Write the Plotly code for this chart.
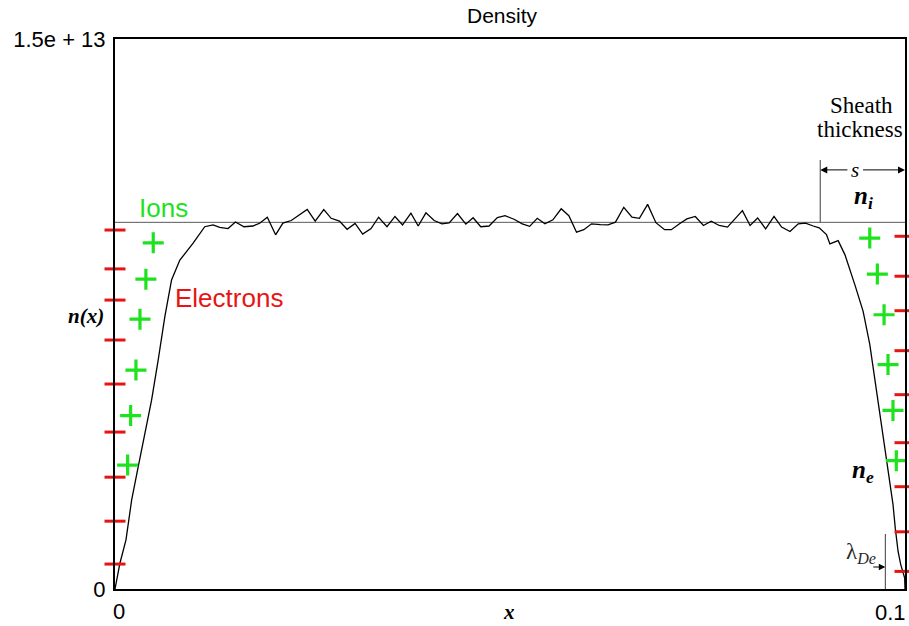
import plotly.graph_objects as go

# ---------------- data ----------------
E12 = 1e12
# electron density n_e(x): x in m, density in units of 1e12
ne_x = [0.0, 0.00063, 0.00139, 0.00211, 0.00294, 0.00379, 0.00463, 0.00547, 0.00631, 0.00716,
        0.00821, 0.00989, 0.01136, 0.01241, 0.01326, 0.01431, 0.01524, 0.01633, 0.01746, 0.01831,
        0.01928, 0.02033, 0.02125, 0.02231, 0.02332, 0.02433, 0.02534, 0.02643, 0.02736, 0.02841,
        0.02938, 0.03039, 0.03135, 0.03241, 0.03337, 0.03443, 0.03544, 0.03640, 0.03746, 0.03838,
        0.03936, 0.04040, 0.04138, 0.04230, 0.04335, 0.04441, 0.04533, 0.04630, 0.04735, 0.04840,
        0.04937, 0.05051, 0.05155, 0.05249, 0.05345, 0.05442, 0.05543, 0.05648, 0.05745, 0.05842,
        0.05934, 0.06032, 0.06145, 0.06241, 0.06335, 0.06440, 0.06544, 0.06638, 0.06742, 0.06847,
        0.06957, 0.07042, 0.07146, 0.07239, 0.07345, 0.07449, 0.07547, 0.07648, 0.07753, 0.07850,
        0.07942, 0.08039, 0.08135, 0.08236, 0.08342, 0.08438, 0.08544, 0.08649, 0.08741, 0.08838,
        0.08914, 0.09006, 0.09049, 0.09154, 0.09239, 0.09365, 0.09470, 0.09554, 0.09617, 0.09681,
        0.09744, 0.09807, 0.09848, 0.09877, 0.09912, 0.09946, 0.09975, 0.09996, 0.1]
ne_v = [0.0, 0.71, 1.34, 2.43, 3.34, 4.25, 5.15, 6.25, 7.43, 8.43,
        8.97, 9.43, 9.88, 9.93, 9.86, 9.83, 10.01, 9.88, 9.90, 9.975,
        10.14, 9.66, 9.98, 10.05, 10.20, 10.35, 10.03, 10.35, 10.11, 10.035,
        9.81, 9.97, 9.68, 9.83, 10.14, 9.88, 10.16, 9.93, 10.25, 9.90,
        10.26, 10.05, 9.96, 9.985, 10.24, 9.95, 10.125, 9.88, 9.90, 10.13,
        10.18, 10.085, 9.96, 9.89, 10.11, 9.96, 10.07, 10.37, 10.18, 9.73,
        9.80, 9.96, 9.94, 9.93, 10.005, 10.41, 10.14, 10.11, 10.49, 9.99,
        9.80, 9.80, 9.96, 10.095, 10.16, 9.915, 10.03, 9.915, 9.87, 10.115,
        10.32, 9.915, 10.12, 9.82, 10.16, 9.87, 9.75, 9.96, 9.98, 9.90,
        9.85, 9.665, 9.41, 9.50, 9.12, 8.30, 7.57, 6.67, 5.75, 4.85,
        3.94, 3.03, 2.31, 1.66, 1.03, 0.665, 0.48, 0.30, 0.0]
ni_x = [0.0, 0.1]
ni_v = [10.0, 10.0]

# decorative charge symbols (x in m, y in units of 1e12)
minus_left_x = [0.0] * 9
minus_left_y = [9.79, 8.73, 7.88, 6.79, 5.59, 4.28, 3.05, 1.85, 0.68]
minus_right_x = [0.1] * 9
minus_right_y = [9.62, 8.53, 7.59, 6.50, 5.30, 3.99, 2.79, 1.56, 0.48]
plus_left_x = [0.00484, 0.00391, 0.00316, 0.00265, 0.00198, 0.00160]
plus_left_y = [9.44, 8.45, 7.36, 5.97, 4.73, 3.38]
plus_right_x = [0.09554, 0.09650, 0.09735, 0.09785, 0.09848, 0.09890]
plus_right_y = [9.57, 8.59, 7.48, 6.12, 4.87, 3.50]

sheath_x = 0.08927
debye_x = 0.09751

x_range = [0, 0.1]
y_range = [0, 15.0]
y_ticks = [0, 15.0]
y_ticktext = ["0", "1.5e + 13"]
x_ticktext = ["0", "0.1"]

RED = "rgb(232,20,20)"
GREEN = "rgb(30,226,30)"
SANS = "Liberation Sans, Arial, sans-serif"
SERIF = "Liberation Serif, Times New Roman, serif"

def sc(v):
    return [a * E12 for a in v]

fig = go.Figure()

fig.add_trace(go.Scatter(x=ni_x, y=sc(ni_v), mode="lines",
                         line=dict(color="rgb(90,90,90)", width=1), showlegend=False))
fig.add_trace(go.Scatter(x=ne_x, y=sc(ne_v), mode="lines",
                         line=dict(color="black", width=1.3), showlegend=False))

for xs, ys in [(minus_left_x, minus_left_y), (minus_right_x, minus_right_y)]:
    fig.add_trace(go.Scatter(x=xs, y=sc(ys), mode="markers", cliponaxis=False,
                             marker=dict(symbol="line-ew", size=15, color=RED,
                                         line=dict(color=RED, width=3)),
                             showlegend=False))
for xs, ys in [(plus_left_x, plus_left_y), (plus_right_x, plus_right_y)]:
    fig.add_trace(go.Scatter(x=xs, y=sc(ys), mode="markers", cliponaxis=False,
                             marker=dict(symbol="cross-thin", size=15, color=GREEN,
                                         line=dict(color=GREEN, width=3.2)),
                             showlegend=False))

# sheath boundary and Debye length marker lines
fig.add_trace(go.Scatter(x=[sheath_x, sheath_x], y=sc([10.0, 11.7]), mode="lines",
                         line=dict(color="rgb(60,60,60)", width=1), showlegend=False))
fig.add_trace(go.Scatter(x=[debye_x, debye_x], y=sc([0.0, 1.5]), mode="lines",
                         line=dict(color="rgb(60,60,60)", width=1), showlegend=False))

C = dict(xanchor="center", yanchor="middle", showarrow=False)
ann = []
ann.append(dict(x=0.0062, y=10.39 * E12, text="Ions",
                font=dict(family=SANS, size=26, color=GREEN), **C))
ann.append(dict(x=0.01439, y=7.94 * E12, text="Electrons",
                font=dict(family=SANS, size=26, color=RED), **C))
ann.append(dict(x=0.0945, y=13.2 * E12, text="Sheath",
                font=dict(family=SERIF, size=23, color="black"), **C))
ann.append(dict(x=0.09432, y=12.52 * E12, text="thickness",
                font=dict(family=SERIF, size=23, color="black"), **C))
ann.append(dict(x=0.09369, y=11.43 * E12, text="<i>s</i>",
                font=dict(family=SERIF, size=21, color="black"), **C))
# s arrows
ann.append(dict(x=sheath_x, y=11.43 * E12, ax=0.0929, ay=11.43 * E12, axref="x", ayref="y",
                text="", showarrow=True, arrowhead=2, arrowsize=1.4, arrowwidth=1,
                arrowcolor="black"))
ann.append(dict(x=0.1, y=11.43 * E12, ax=0.0945, ay=11.43 * E12, axref="x", ayref="y",
                text="", showarrow=True, arrowhead=2, arrowsize=1.4, arrowwidth=1,
                arrowcolor="black"))
ann.append(dict(x=0.0947, y=10.69 * E12, text="<b><i>n</i></b><sub><b><i>i</i></b></sub>",
                font=dict(family=SERIF, size=25, color="black"), **C))
ann.append(dict(x=0.0947, y=3.2 * E12, text="<b><i>n</i></b><sub><b><i>e</i></b></sub>",
                font=dict(family=SERIF, size=25, color="black"), **C))
ann.append(dict(x=0.09445, y=0.98 * E12, text="λ<sub><i>De</i></sub>",
                font=dict(family=SERIF, size=23, color="rgb(40,40,40)"), **C))
ann.append(dict(x=debye_x, y=0.6 * E12, ax=0.0958, ay=0.6 * E12, axref="x", ayref="y",
                text="", showarrow=True, arrowhead=2, arrowsize=1.3, arrowwidth=1,
                arrowcolor="black"))
# labels outside the plot area (paper coordinates)
P = dict(xref="paper", yref="paper", showarrow=False, yanchor="middle")
ann.append(dict(x=-0.0366, y=0.496, text="<b><i>n(x)</i></b>", xanchor="center",
                font=dict(family=SERIF, size=21, color="black"), **P))
ann.append(dict(x=0.4987, y=-0.0418, text="<b><i>x</i></b>", xanchor="center",
                font=dict(family=SERIF, size=21, color="black"), **P))
ann.append(dict(x=0.0, y=-0.04, text=x_ticktext[0], xanchor="left", xshift=-4,
                font=dict(family=SANS, size=22, color="black"), **P))
ann.append(dict(x=1.0, y=-0.0436, text=x_ticktext[1], xanchor="right", xshift=3,
                font=dict(family=SANS, size=22, color="black"), **P))

fig.update_layout(
    width=909, height=626,
    margin=dict(l=115, r=2, t=39, b=37),
    paper_bgcolor="white", plot_bgcolor="white",
    title=dict(text="Density", x=502 / 909, xanchor="center", xref="container",
               y=1 - 16 / 626, yanchor="middle", yref="container",
               font=dict(family=SANS, size=21, color="black")),
    annotations=ann,
    showlegend=False,
)
fig.update_xaxes(range=x_range, showgrid=False, zeroline=False, showticklabels=False,
                 ticks="", showline=True, linecolor="black", linewidth=2, mirror=True)
fig.update_yaxes(range=[y_range[0] * E12, y_range[1] * E12], showgrid=False, zeroline=False,
                 tickvals=sc(y_ticks), ticktext=y_ticktext, ticks="",
                 ticklabelstandoff=3,
                 tickfont=dict(family=SANS, size=22, color="black"),
                 showline=True, linecolor="black", linewidth=2, mirror=True)

fig.write_html("out.html", config={"displayModeBar": False},
               post_script="document.body.style.margin='0';")
